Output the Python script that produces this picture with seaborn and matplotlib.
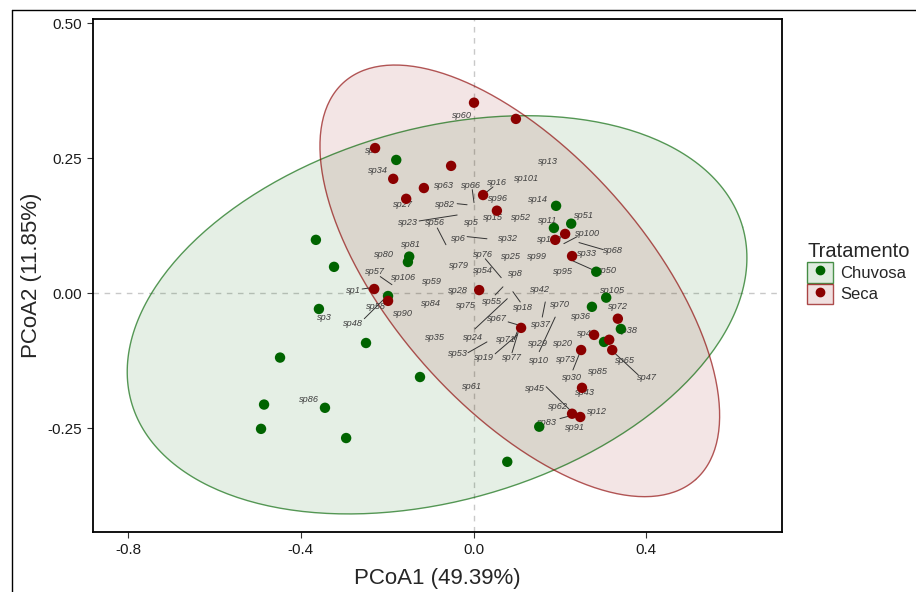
import numpy as np
import pandas as pd
import seaborn as sns
import matplotlib
matplotlib.use("Agg")
import matplotlib.pyplot as plt
from matplotlib.lines import Line2D
from matplotlib.patches import Patch

# ---------------- data ----------------
chuvosa_x = [-0.179, 0.191, 0.226, 0.186, -0.149, -0.152, -0.365, -0.323, -0.358, -0.198,
             -0.249, -0.448, -0.485, -0.492, -0.344, -0.295, -0.124, 0.152, 0.078, 0.284,
             0.307, 0.274, 0.341, 0.302]
chuvosa_y = [0.247, 0.162, 0.129, 0.121, 0.068, 0.058, 0.099, 0.049, -0.029, -0.005,
             -0.092, -0.119, -0.206, -0.251, -0.212, -0.268, -0.155, -0.247, -0.312, 0.040,
             -0.008, -0.025, -0.066, -0.090]
seca_x = [-0.228, -0.186, -0.115, -0.156, -0.052, 0.001, 0.098, 0.022, 0.054, -0.230,
          -0.198, 0.212, 0.189, 0.228, 0.013, 0.110, 0.279, 0.314, 0.321, 0.249,
          0.251, 0.228, 0.247, 0.334]
seca_y = [0.269, 0.212, 0.195, 0.175, 0.236, 0.353, 0.323, 0.182, 0.153, 0.008,
          -0.014, 0.110, 0.099, 0.069, 0.006, -0.064, -0.077, -0.086, -0.105, -0.105,
          -0.175, -0.223, -0.229, -0.047]

# ellipse parameters (center, two conjugate semi-axis vectors)
ell_chuvosa_center = [-0.0845, -0.0398]
ell_chuvosa_a = [0.7074, 0.1626]
ell_chuvosa_b = [0.1188, -0.3310]
ell_seca_center = [0.1070, 0.0231]
ell_seca_a = [0.407, -0.368]
ell_seca_b = [-0.220, -0.156]

# species labels (text positions)
sp_names = ["sp4", "sp34", "sp63", "sp27", "sp82", "sp60", "sp13", "sp101", "sp66", "sp16",
            "sp96", "sp14", "sp15", "sp52", "sp11", "sp51", "sp68", "sp50", "sp105", "sp72",
            "sp23", "sp56", "sp81", "sp80", "sp57", "sp106", "sp59", "sp1", "sp84", "sp3",
            "sp58", "sp48", "sp90", "sp5", "sp6", "sp32", "sp79", "sp76", "sp25", "sp99",
            "sp54", "sp8", "sp95", "sp33", "sp100", "sp102", "sp28", "sp42", "sp75", "sp55",
            "sp18", "sp70", "sp37", "sp67", "sp24", "sp53", "sp19", "sp71", "sp77", "sp29",
            "sp10", "sp20", "sp73", "sp30", "sp85", "sp36", "sp45", "sp43", "sp62", "sp12",
            "sp83", "sp91", "sp61", "sp46", "sp38", "sp65", "sp47", "sp35", "sp86"]
sp_x = [-0.235, -0.221, -0.068, -0.163, -0.066, -0.027, 0.172, 0.122, -0.006, 0.054,
        0.057, 0.149, 0.045, 0.110, 0.172, 0.256, 0.323, 0.309, 0.321, 0.334,
        -0.152, -0.089, -0.145, -0.207, -0.228, -0.163, -0.096, -0.279, -0.098, -0.346,
        -0.226, -0.279, -0.163, -0.006, -0.034, 0.080, -0.034, 0.022, 0.087, 0.147,
        0.022, 0.098, 0.207, 0.263, 0.265, 0.175, -0.036, 0.154, -0.017, 0.043,
        0.115, 0.200, 0.156, 0.054, -0.001, -0.036, 0.024, 0.075, 0.089, 0.149,
        0.152, 0.207, 0.214, 0.228, 0.288, 0.249, 0.142, 0.258, 0.196, 0.286,
        0.170, 0.235, -0.003, 0.263, 0.358, 0.351, 0.402, -0.089, -0.381]
sp_y = [0.264, 0.227, 0.199, 0.164, 0.164, 0.329, 0.244, 0.212, 0.199, 0.205,
        0.175, 0.173, 0.140, 0.140, 0.134, 0.145, 0.079, 0.042, 0.006, -0.025,
        0.131, 0.131, 0.090, 0.071, 0.040, 0.029, 0.021, 0.006, -0.018, -0.044,
        -0.025, -0.055, -0.038, 0.132, 0.101, 0.101, 0.051, 0.071, 0.068, 0.068,
        0.042, 0.036, 0.040, 0.073, 0.110, 0.099, 0.006, 0.008, -0.023, -0.016,
        -0.027, -0.021, -0.058, -0.047, -0.081, -0.112, -0.118, -0.086, -0.119, -0.092,
        -0.125, -0.092, -0.123, -0.155, -0.145, -0.042, -0.177, -0.184, -0.210, -0.218,
        -0.240, -0.249, -0.173, -0.075, -0.068, -0.125, -0.156, -0.082, -0.197]

# repel segments (label side -> species position)
seg_x0 = [-0.038, -0.003, 0.045, -0.126, -0.084, -0.216, -0.258, -0.253, -0.015, 0.027,
          0.240, 0.244, 0.286, 0.050, 0.108, 0.159, 0.080, 0.003, -0.013, 0.050,
          0.089, 0.094, 0.152, 0.230, 0.168, 0.200, 0.381]
seg_y0 = [0.166, 0.192, 0.197, 0.134, 0.121, 0.031, 0.008, -0.047, 0.105, 0.064,
          0.105, 0.094, 0.040, -0.003, -0.016, -0.044, -0.053, -0.066, -0.110, -0.112,
          -0.110, -0.086, -0.108, -0.142, -0.173, -0.232, -0.151]
seg_x1 = [-0.015, 0.001, 0.031, -0.038, -0.064, -0.189, -0.240, -0.209, 0.031, 0.064,
          0.209, 0.300, 0.230, 0.068, 0.091, 0.166, 0.101, 0.078, 0.031, 0.101,
          0.103, 0.101, 0.189, 0.247, 0.223, 0.223, 0.323]
seg_y1 = [0.164, 0.168, 0.188, 0.145, 0.090, 0.016, 0.010, -0.012, 0.101, 0.029,
          0.092, 0.081, 0.060, 0.012, 0.003, -0.016, -0.058, -0.010, -0.090, -0.077,
          -0.073, -0.071, -0.044, -0.108, -0.216, -0.227, -0.108]

x_ticks = [-0.8, -0.4, 0.0, 0.4]
y_ticks = [-0.25, 0.00, 0.25, 0.50]
groups = ["Chuvosa", "Seca"]
colors = {"Chuvosa": "#006400", "Seca": "#8B0000"}

df = pd.DataFrame({
    "PCoA1": chuvosa_x + seca_x,
    "PCoA2": chuvosa_y + seca_y,
    "Tratamento": ["Chuvosa"] * len(chuvosa_x) + ["Seca"] * len(seca_x),
})

# ---------------- plot ----------------
sns.set_style("white")
plt.rcParams["font.family"] = ["Liberation Sans", "DejaVu Sans"]

fig = plt.figure(figsize=(9.16, 5.92), dpi=100)
ax = fig.add_axes([93 / 916, 1 - 532 / 592, (782 - 93) / 916, (532 - 19) / 592])

ax.axhline(0, color="#c8c8c8", lw=1, ls=(0, (4, 4)), zorder=0)
ax.axvline(0, color="#c8c8c8", lw=1, ls=(0, (4, 4)), zorder=0)

t = np.linspace(0, 2 * np.pi, 300)
for g, c, a, b in [("Chuvosa", ell_chuvosa_center, ell_chuvosa_a, ell_chuvosa_b),
                   ("Seca", ell_seca_center, ell_seca_a, ell_seca_b)]:
    ex = c[0] + np.cos(t) * a[0] + np.sin(t) * b[0]
    ey = c[1] + np.cos(t) * a[1] + np.sin(t) * b[1]
    ax.fill(ex, ey, color=colors[g], alpha=0.1, lw=0, zorder=1)
    ax.plot(ex, ey, color=colors[g], alpha=0.65, lw=1.0, zorder=1.5)

for x0, y0, x1, y1 in zip(seg_x0, seg_y0, seg_x1, seg_y1):
    ax.plot([x0, x1], [y0, y1], color="#333333", lw=0.7, zorder=2)

for n, x, y in zip(sp_names, sp_x, sp_y):
    ax.text(x, y, n, fontsize=6.6, style="italic", color="#404040",
            ha="center", va="center", zorder=2.5)

sns.scatterplot(data=df, x="PCoA1", y="PCoA2", hue="Tratamento", palette=colors,
                s=56, edgecolor="none", legend=False, ax=ax, zorder=3)

ax.set_xlim(-0.881, 0.714)
ax.set_ylim(-0.442, 0.508)
ax.set_xticks(x_ticks)
ax.set_xticklabels(["-0.8", "-0.4", "0.0", "0.4"])
ax.set_yticks(y_ticks)
ax.set_yticklabels(["-0.25", "0.00", "0.25", "0.50"])
ax.tick_params(axis="both", direction="out", length=4, width=0.8, color="#333333",
               labelsize=11, labelcolor="#1a1a1a", left=True, bottom=True, pad=4)
ax.set_xlabel("PCoA1 (49.39%)", fontsize=16, labelpad=8)
ax.set_ylabel("PCoA2 (11.85%)", fontsize=16, labelpad=4)
for s in ax.spines.values():
    s.set_color("black")
    s.set_linewidth(1.3)

handles = [(Patch(facecolor=colors[g], alpha=0.12, edgecolor="none"),
            Patch(facecolor="none", edgecolor=colors[g], alpha=0.7, lw=1.0),
            Line2D([], [], marker="o", ls="", color=colors[g], markersize=6))
           for g in groups]
fig.legend(handles, groups, title="Tratamento", loc="upper left",
           bbox_to_anchor=(807 / 916, 1 - 242 / 592), frameon=False,
           fontsize=12, title_fontsize=14.5, handlelength=1.55, handleheight=1.55,
           handletextpad=0.45, labelspacing=0.05, alignment="left",
           borderaxespad=0, borderpad=0)

# outer frame (left/top edges visible in reference)
fig.add_artist(Line2D([12 / 916, 12 / 916], [0, 1 - 10 / 592], transform=fig.transFigure,
                      color="black", lw=1))
fig.add_artist(Line2D([12 / 916, 1], [1 - 10 / 592, 1 - 10 / 592], transform=fig.transFigure,
                      color="black", lw=1))

fig.savefig("out.png", dpi=100)
